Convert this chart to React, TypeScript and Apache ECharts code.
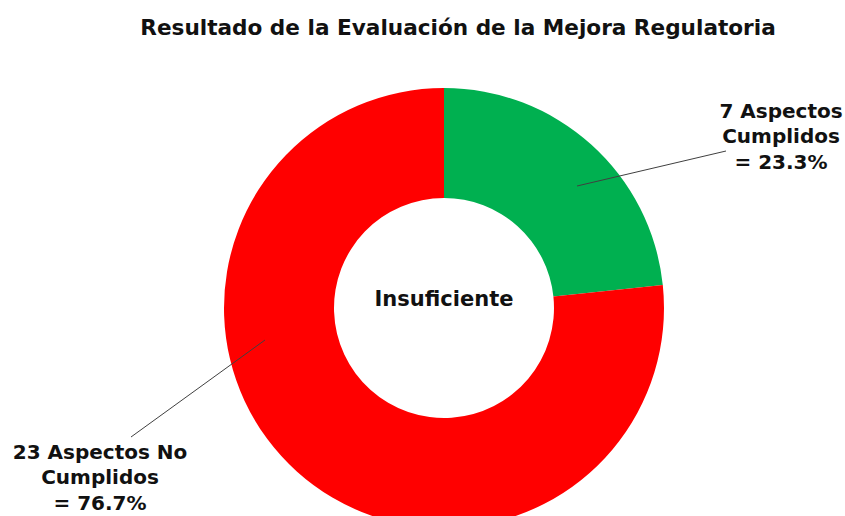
import React, { useEffect, useRef } from "react";
import * as echarts from "echarts";

const categories = ["Cumplidos", "No Cumplidos"];
const values = [7, 23];
const labelPrefixes = ["Aspectos", "Aspectos No"];
const colors = ["#00B050", "#FF0000"];
const titleText = "Resultado de la Evaluación de la Mejora Regulatoria";
const centerText = "Insuficiente";

export default function App() {
  const ref = useRef<HTMLDivElement>(null);
  useEffect(() => {
    document.body.style.margin = "0";
    if (!ref.current) return;
    const chart = echarts.init(ref.current, null, { renderer: "svg" });
    const font = "'DejaVu Sans', sans-serif";
    const pieBase = {
      type: "pie",
      center: [444, 308],
      radius: [110, 220],
      startAngle: 90,
      clockwise: true,
      percentPrecision: 1,
      silent: true,
      emphasis: { disabled: true },
    };
    chart.setOption({
      animation: false,
      backgroundColor: "#ffffff",
      title: {
        text: titleText,
        left: 453,
        top: 11,
        textAlign: "center",
        textStyle: { fontFamily: font, fontWeight: "bold", fontSize: 21.6, color: "#111" },
      },
      graphic: [
        {
          type: "text",
          x: 444,
          y: 299,
          z: 10,
          style: {
            text: centerText,
            fontFamily: font,
            fontWeight: "bold",
            fontSize: 21,
            fill: "#111",
            align: "center",
            verticalAlign: "middle",
          },
        },
      ],
      series: [
        {
          ...pieBase,
          z: 2,
          label: { show: false },
          labelLine: { show: false },
          data: categories.map((c, i) => ({
            name: c,
            value: values[i],
            itemStyle: { color: colors[i] },
          })),
        },
        {
          ...pieBase,
          z: 4,
          data: categories.map((c, i) => ({
            name: c,
            value: values[i],
            itemStyle: { color: "rgba(0,0,0,0)" },
          })),
          label: {
            show: true,
            position: "outside",
            fontFamily: font,
            fontWeight: "bold",
            fontSize: 20,
            lineHeight: 25.5,
            color: "#111",
            align: "center",
            formatter: (p: any) =>
              `${p.value} ${labelPrefixes[p.dataIndex]}\nCumplidos\n= ${p.percent}%`,
          },
          labelLine: {
            show: true,
            lineStyle: { color: "#404040", width: 1 },
          },
          labelLayout: (p: any) => {
            if (p.dataIndex === 0) {
              return {
                x: 781,
                y: 136,
                align: "center",
                verticalAlign: "middle",
                labelLinePoints: [
                  [577, 186],
                  [726, 151],
                  [726, 151],
                ],
              };
            }
            return {
              x: 100,
              y: 477,
              align: "center",
              verticalAlign: "middle",
              labelLinePoints: [
                [265, 340],
                [131, 437],
                [131, 437],
              ],
            };
          },
        },
      ],
    });
    return () => chart.dispose();
  }, []);
  return <div ref={ref} style={{ width: 845, height: 516 }} />;
}
